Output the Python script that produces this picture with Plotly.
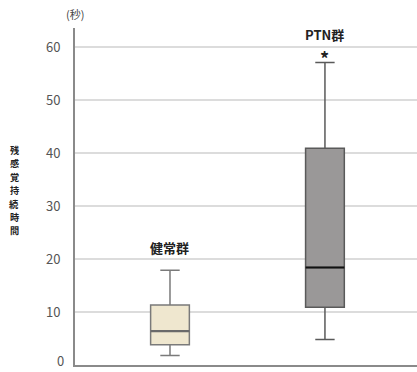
import plotly.graph_objects as go

# ---- data ----
groups = ["健常群", "PTN群"]
positions = [0, 1]
lower_whisker = [1.8, 4.8]
q1_vals = [3.8, 10.9]
median_vals = [6.4, 18.4]
q3_vals = [11.3, 40.9]
upper_whisker = [17.9, 57.1]
significance = ["", "*"]
y_ticks = [0, 10, 20, 30, 40, 50, 60]
y_title = "残感覚持続時間"
y_unit = "(秒)"

fills = ["#efe7cf", "#9a9898"]
borders = ["#7a7a7a", "#5a5a5a"]
median_colors = ["#6a6a6a", "#111111"]
box_w = 0.25
FONT = "Noto Sans CJK JP"

fig = go.Figure()
for i, g in enumerate(groups):
    fig.add_trace(go.Box(
        x=[positions[i]], q1=[q1_vals[i]], median=[median_vals[i]], q3=[q3_vals[i]],
        lowerfence=[lower_whisker[i]], upperfence=[upper_whisker[i]],
        width=box_w, whiskerwidth=0.5, fillcolor=fills[i],
        line=dict(color=borders[i], width=1.5), name=g, showlegend=False,
        hoverinfo="skip",
    ))
    fig.add_trace(go.Scatter(
        x=[positions[i] - box_w / 2, positions[i] + box_w / 2],
        y=[median_vals[i], median_vals[i]], mode="lines",
        line=dict(color=median_colors[i], width=2.2), showlegend=False, hoverinfo="skip",
    ))
    # group label
    fig.add_annotation(x=positions[i], y=upper_whisker[i], text=f"<b>{g}</b>",
                       showarrow=False, yanchor="middle",
                       yshift=(28 if significance[i] else 23),
                       font=dict(family=FONT, size=13, color="#222"))
    if significance[i]:
        fig.add_annotation(x=positions[i], y=upper_whisker[i], text=f"<b>{significance[i]}</b>",
                           showarrow=False, yanchor="middle", yshift=4,
                           font=dict(family=FONT, size=18, color="#222"))

fig.add_annotation(xref="paper", yref="paper", x=0, y=1, text=y_unit, showarrow=False,
                   xanchor="center", yanchor="middle", yshift=14,
                   font=dict(family=FONT, size=11, color="#444"))
# vertical y-axis title: one character per line
n = len(y_title)
step = 13.4
for k, ch in enumerate(y_title):
    fig.add_annotation(xref="paper", yref="y", x=0, y=33, text=f"<b>{ch}</b>",
                       showarrow=False, xanchor="center", yanchor="middle", xshift=-61,
                       yshift=(n - 1) / 2 * step - k * step,
                       font=dict(family=FONT, size=9.2, color="#222"))

# lowest tick label drawn as annotation so it stays inside the page
fig.add_annotation(xref="paper", yref="y", x=0, y=y_ticks[0], text=str(y_ticks[0]),
                   showarrow=False, xanchor="right", yanchor="bottom", xshift=-9, yshift=-7,
                   font=dict(family=FONT, size=13, color="#555"))

fig.update_layout(
    width=417, height=372,
    margin=dict(l=75, r=0, t=28, b=7),
    paper_bgcolor="white", plot_bgcolor="white",
    font=dict(family=FONT),
)
fig.update_xaxes(range=[-0.613, 1.594], showgrid=False, zeroline=False, automargin=False,
                 showticklabels=False, showline=True, linecolor="#8a8a8a", linewidth=2)
fig.update_yaxes(range=[0, 63.6], tickvals=y_ticks[1:], showgrid=True, gridcolor="#dcdcdc",
                 gridwidth=1.5, zeroline=False, showline=True, linecolor="#8a8a8a",
                 linewidth=2, ticks="", ticklabelstandoff=10, automargin=False,
                 tickfont=dict(family=FONT, size=13, color="#555"))

fig.write_html("out.html", config={"displayModeBar": False},
               post_script="document.body.style.margin='0px';document.body.style.overflow='hidden';")
